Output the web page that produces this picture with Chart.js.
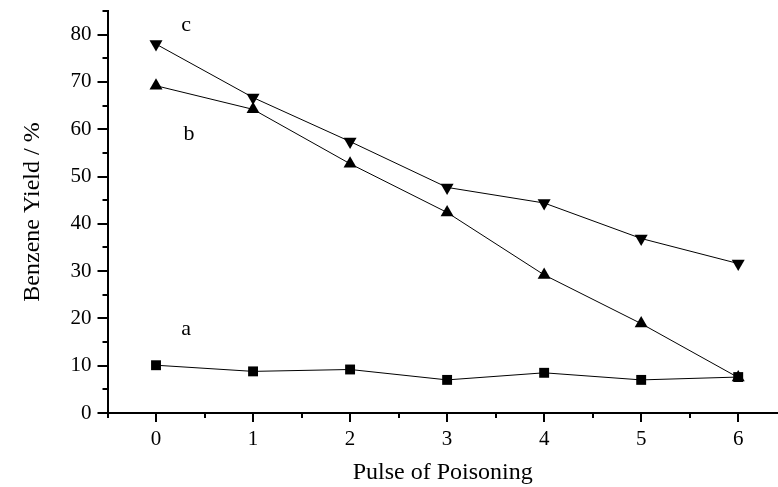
<!DOCTYPE html>
<html>
<head>
<meta charset="utf-8">
<script src="https://cdn.jsdelivr.net/npm/chart.js@4"></script>
<style>
  html, body { margin: 0; padding: 0; background: #fff; }
  #wrap { width: 778px; height: 487px; position: relative; }
</style>
</head>
<body>
<div id="wrap"><canvas id="c"></canvas></div>
<script>
// Pulse counts and benzene yields (%) for the three catalysts
const pulses = [0, 1, 2, 3, 4, 5, 6];
const yieldA = [10.1, 8.8, 9.2, 7.0, 8.5, 7.0, 7.6];
const yieldB = [69.2, 64.2, 52.7, 42.4, 29.2, 18.9, 7.5];
const yieldC = [78.0, 66.7, 57.4, 47.7, 44.4, 36.9, 31.6];
const xTickLabels = ['0', '1', '2', '3', '4', '5', '6'];
const yTickLabels = ['0', '10', '20', '30', '40', '50', '60', '70', '80'];
// Curve tags: text, x, y in data units
const curveTags = [
  { text: 'c', x: 0.31, y: 82.0 },
  { text: 'b', x: 0.34, y: 59.0 },
  { text: 'a', x: 0.31, y: 17.8 }
];

const SERIF = '"Liberation Serif", "Times New Roman", serif';

function pts(vals) {
  return pulses.map((p, i) => ({ x: p, y: vals[i] }));
}

function series(label, vals, style, rotation, radius) {
  return {
    label,
    data: pts(vals),
    borderColor: '#000',
    borderWidth: 1,
    backgroundColor: '#000',
    pointStyle: style,
    rotation: rotation,
    pointRadius: radius,
    pointHoverRadius: radius,
    pointBorderWidth: 0,
    pointBackgroundColor: '#000',
    tension: 0,
    fill: false,
    clip: false
  };
}

// Draws major/minor tick marks on both axes and the curve tags
const axisDecor = {
  id: 'axisDecor',
  afterDraw(chart) {
    const ctx = chart.ctx;
    const xs = chart.scales.x, ys = chart.scales.y;
    const area = chart.chartArea;
    ctx.save();
    ctx.strokeStyle = '#000';
    ctx.lineWidth = 2;
    // y ticks (outward, left)
    for (let v = 0; v <= 85; v += 5) {
      const py = Math.round(ys.getPixelForValue(v));
      const len = v % 10 === 0 ? 10 : 5;
      ctx.beginPath();
      ctx.moveTo(area.left, py);
      ctx.lineTo(area.left - len, py);
      ctx.stroke();
    }
    // x ticks (outward, down)
    for (let v = -0.5; v <= 6.0001; v += 0.5) {
      const px = Math.round(xs.getPixelForValue(v));
      const len = Number.isInteger(v) ? 9 : 5;
      ctx.beginPath();
      ctx.moveTo(px, area.bottom);
      ctx.lineTo(px, area.bottom + len);
      ctx.stroke();
    }
    // curve tags
    ctx.fillStyle = '#000';
    ctx.font = '22px ' + SERIF;
    ctx.textAlign = 'center';
    ctx.textBaseline = 'middle';
    curveTags.forEach(t => {
      ctx.fillText(t.text, xs.getPixelForValue(t.x), ys.getPixelForValue(t.y));
    });
    ctx.restore();
  }
};

new Chart(document.getElementById('c'), {
  type: 'line',
  data: {
    datasets: [
      series('a', yieldA, 'rect', 0, 7),
      series('b', yieldB, 'triangle', 0, 7.5),
      series('c', yieldC, 'triangle', 180, 7.5)
    ]
  },
  options: {
    responsive: true,
    maintainAspectRatio: false,
    animation: false,
    events: [],
    layout: { autoPadding: false, padding: { top: 11, right: 0, left: 0, bottom: 0 } },
    plugins: {
      legend: { display: false },
      tooltip: { enabled: false }
    },
    scales: {
      x: {
        type: 'linear',
        min: -0.5,
        max: 6.41,
        afterBuildTicks(scale) {
          scale.ticks = pulses.map(v => ({ value: v }));
        },
        afterFit(scale) {
          scale.height = 74;
          scale.paddingLeft = 0;
          scale.paddingRight = 0;
        },
        grid: { display: false, drawTicks: false },
        border: { display: true, color: '#000', width: 2 },
        ticks: {
          color: '#000',
          padding: 14,
          maxRotation: 0,
          autoSkip: false,
          font: { family: SERIF, size: 21 },
          callback: (v) => xTickLabels[pulses.indexOf(v)] ?? ''
        },
        title: {
          display: true,
          text: 'Pulse of Poisoning',
          color: '#000',
          font: { family: SERIF, size: 24 },
          padding: { top: 0, bottom: 0 }
        }
      },
      y: {
        type: 'linear',
        min: 0,
        max: 85,
        afterBuildTicks(scale) {
          scale.ticks = yTickLabels.map(s => ({ value: Number(s) }));
        },
        afterFit(scale) {
          scale.width = 107.5;
          scale.paddingTop = 0;
          scale.paddingBottom = 0;
        },
        grid: { display: false, drawTicks: false },
        border: { display: true, color: '#000', width: 2 },
        ticks: {
          color: '#000',
          padding: 16,
          autoSkip: false,
          font: { family: SERIF, size: 21 },
          callback: (v) => String(v)
        },
        title: {
          display: true,
          text: 'Benzene Yield / %',
          color: '#000',
          font: { family: SERIF, size: 24 },
          padding: { top: 18, bottom: 0 }
        }
      }
    }
  },
  plugins: [axisDecor]
});
</script>
</body>
</html>
